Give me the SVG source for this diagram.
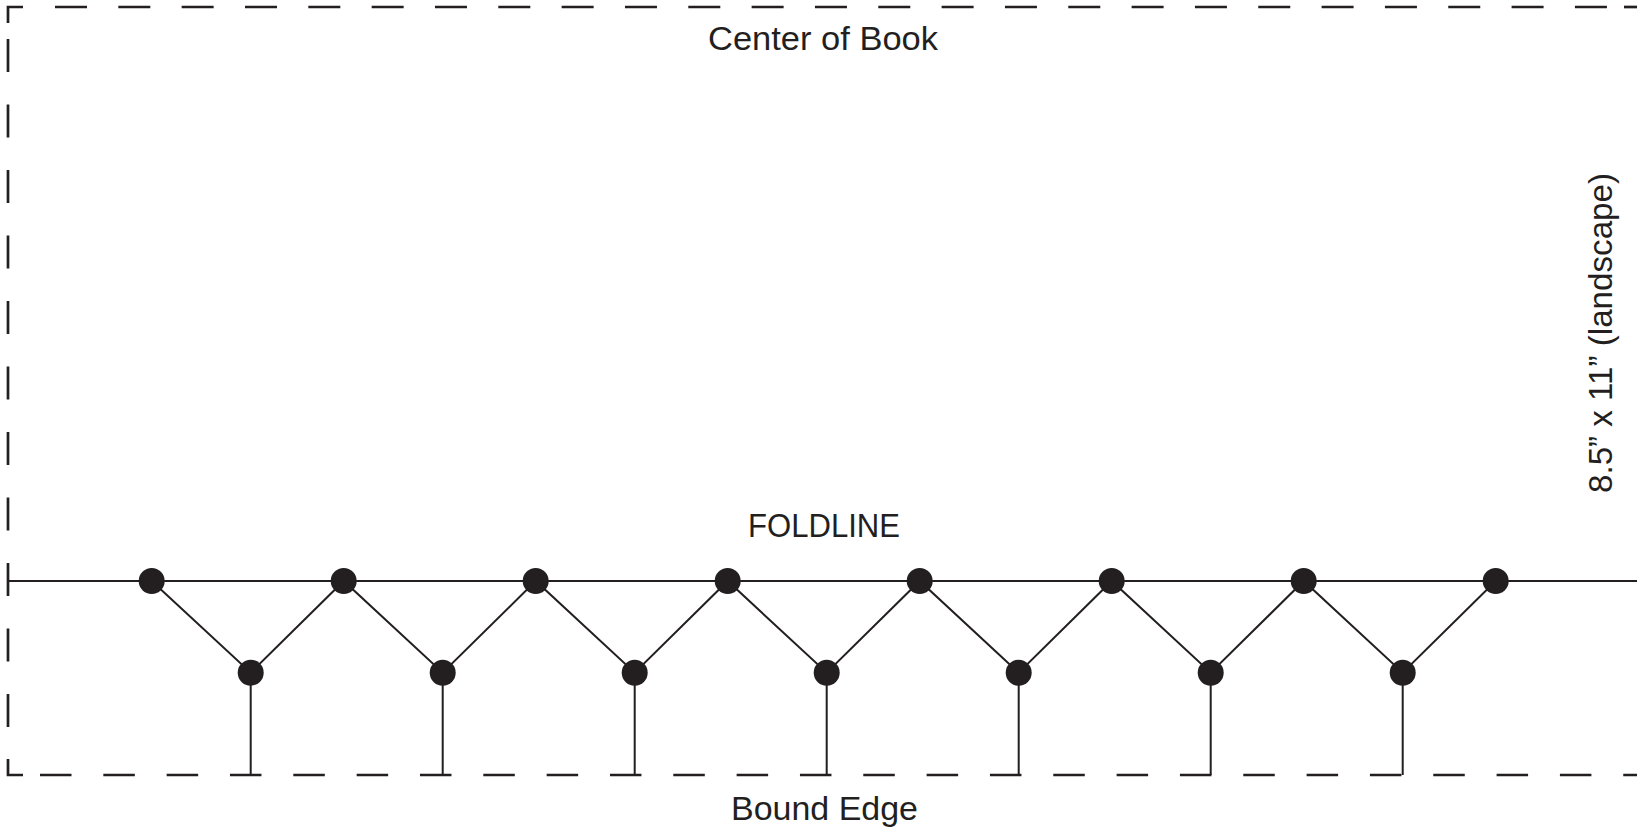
<svg xmlns="http://www.w3.org/2000/svg" width="1637" height="833" viewBox="0 0 1637 833">
<style>
.dash{fill:none;stroke:#231f20;stroke-width:2.7}
.ln{fill:none;stroke:#231f20;stroke-width:2}
.dot{fill:#231f20}
.lbl{font-family:"Liberation Sans",Arial,sans-serif;font-size:34px;fill:#231f20;text-anchor:middle}
</style>
<rect width="1637" height="833" fill="#ffffff"/>
<g id="border">
<path class="dash" d="M8,23 V7 H23"/>
<path class="dash" d="M55,7 H1607" stroke-dasharray="32 31.33"/>
<path class="dash" d="M1624,7 H1637"/>
<path class="dash" d="M8,39 V759" stroke-dasharray="33 32.5"/>
<path class="dash" d="M8,759 V775 H23"/>
<path class="dash" d="M40,775 H1637" stroke-dasharray="31.5 31.83"/>
</g>
<g id="connectors">
<path class="ln" d="M8,581 H1637"/>
<path class="ln" d="M151.7,581 L250.7,672.7 L343.7,581 L442.7,672.7 L535.7,581 L634.7,672.7 L727.7,581 L826.7,672.7 L919.7,581 L1018.7,672.7 L1111.7,581 L1210.7,672.7 L1303.7,581 L1402.7,672.7 L1495.7,581"/>
<path class="ln" d="M250.7,672.7 V775 M442.7,672.7 V775 M634.7,672.7 V775 M826.7,672.7 V775 M1018.7,672.7 V775 M1210.7,672.7 V775 M1402.7,672.7 V775"/>
</g>
<g id="upper-dots">
<circle class="dot" cx="151.7" cy="581" r="13"/>
<circle class="dot" cx="343.7" cy="581" r="13"/>
<circle class="dot" cx="535.7" cy="581" r="13"/>
<circle class="dot" cx="727.7" cy="581" r="13"/>
<circle class="dot" cx="919.7" cy="581" r="13"/>
<circle class="dot" cx="1111.7" cy="581" r="13"/>
<circle class="dot" cx="1303.7" cy="581" r="13"/>
<circle class="dot" cx="1495.7" cy="581" r="13"/>
</g>
<g id="lower-dots">
<circle class="dot" cx="250.7" cy="672.7" r="13"/>
<circle class="dot" cx="442.7" cy="672.7" r="13"/>
<circle class="dot" cx="634.7" cy="672.7" r="13"/>
<circle class="dot" cx="826.7" cy="672.7" r="13"/>
<circle class="dot" cx="1018.7" cy="672.7" r="13"/>
<circle class="dot" cx="1210.7" cy="672.7" r="13"/>
<circle class="dot" cx="1402.7" cy="672.7" r="13"/>
</g>
<g id="labels">
<text class="lbl" x="823" y="50" textLength="230" lengthAdjust="spacingAndGlyphs">Center of Book</text>
<text class="lbl" x="824" y="537" textLength="152" lengthAdjust="spacingAndGlyphs">FOLDLINE</text>
<text class="lbl" x="824.5" y="820" textLength="187" lengthAdjust="spacingAndGlyphs">Bound Edge</text>
<text class="lbl" transform="translate(1612,333) rotate(-90)" x="0" y="0" textLength="320" lengthAdjust="spacingAndGlyphs">8.5” x 11” (landscape)</text>
</g>
</svg>
